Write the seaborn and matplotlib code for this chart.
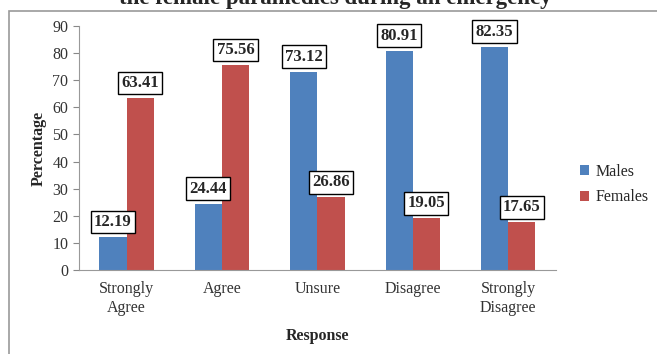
import pandas as pd
import numpy as np
import seaborn as sns
import matplotlib.pyplot as plt
from matplotlib.patches import Rectangle

# data ---------------------------------------------------------------------
responses = ['Strongly\nAgree', 'Agree', 'Unsure', 'Disagree', 'Strongly\nDisagree']
males = [12.19, 24.44, 73.12, 80.91, 82.35]
females = [63.41, 75.56, 26.86, 19.05, 17.65]

df = pd.DataFrame({
    'Response': responses * 2,
    'Percentage': males + females,
    'Sex': ['Males'] * 5 + ['Females'] * 5,
})

sns.set_style('white')
plt.rcParams['font.family'] = ['Liberation Serif', 'DejaVu Serif']

fig = plt.figure(figsize=(6.57, 3.54), dpi=100)
ax = fig.add_axes([0.12, 0.237, 0.726, 0.69])

sns.barplot(data=df, x='Response', y='Percentage', hue='Sex',
            palette=['#4F81BD', '#C0504D'], saturation=1, width=0.57,
            linewidth=0, edgecolor='none', ax=ax)

for c in ax.containers:
    ax.bar_label(c, fmt='%.2f', padding=5, fontsize=12, fontweight='bold',
                 bbox=dict(boxstyle='square,pad=0.2', fc='white', ec='black', lw=1))

ax.set_ylim(0, 90)
ax.set_yticks(np.arange(0, 91, 10))
ax.set_xlim(-0.5, 4.5)
ax.tick_params(axis='y', length=4, direction='out', left=True, color='#888888',
               labelsize=11.5, labelcolor='#333333')
ax.tick_params(axis='x', length=0, labelsize=11.5, labelcolor='#333333', pad=8)
sns.despine(ax=ax)
for s in ['left', 'bottom']:
    ax.spines[s].set_color('#999999')
ax.set_xlabel('Response', fontweight='bold', fontsize=11.5, labelpad=9)
ax.set_ylabel('Percentage', fontweight='bold', fontsize=11.5, labelpad=4)

leg = ax.legend(loc='center left', bbox_to_anchor=(1.02, 0.35), frameon=False,
                handlelength=0.6, handleheight=0.6, handletextpad=0.4,
                fontsize=11.5, labelspacing=0.6)

# outer frame and cut-off title
fig.patches.append(Rectangle((0.014, -0.05), 1.2, 1.019, transform=fig.transFigure,
                             fill=False, ec='#999999', lw=1.2))
fig.text(0.51, 0.99, 'the female paramedics during an emergency', ha='center',
         va='baseline', fontsize=16.5, fontweight='bold')

fig.savefig('out.png', dpi=100)
